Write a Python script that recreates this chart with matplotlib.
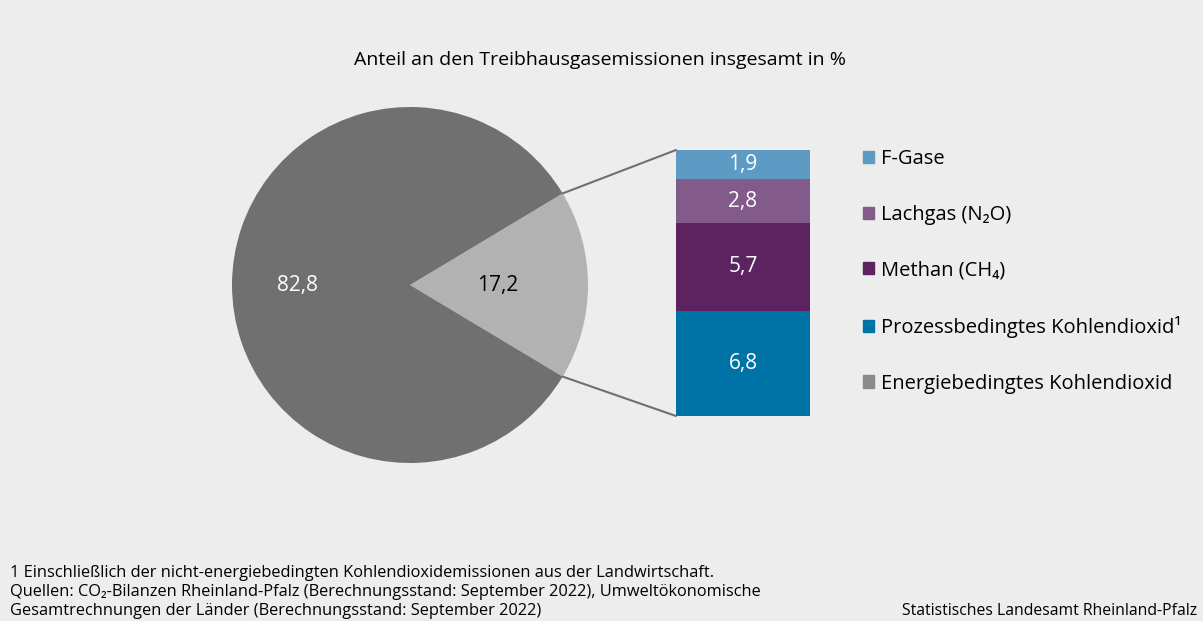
import numpy as np
import matplotlib.pyplot as plt
from matplotlib.patches import Patch, ConnectionPatch

plt.rcParams['font.family'] = ['Open Sans', 'DejaVu Sans']

pie_labels = ["Energiebedingtes Kohlendioxid", "Übrige"]
pie_values = [82.8, 17.2]
pie_colors = ["#707070", "#b2b2b2"]

bar_labels = ["Prozessbedingtes Kohlendioxid¹", "Methan (CH₄)", "Lachgas (N₂O)", "F-Gase"]
bar_values = [6.8, 5.7, 2.8, 1.9]
bar_colors = ["#0073a6", "#5c2360", "#825b8a", "#5d9ac4"]

bg = "#ededed"
W, H = 1203, 621
fig = plt.figure(figsize=(W / 100, H / 100), dpi=100, facecolor=bg)

# pie
cx, cy, r = 410, 285, 178
ax_pie = fig.add_axes([(cx - r) / W, (H - cy - r) / H, 2 * r / W, 2 * r / H])
ax_pie.set_facecolor(bg)
angle = pie_values[1] / sum(pie_values) * 360 / 2
ax_pie.pie(pie_values[::-1], colors=pie_colors[::-1], startangle=-angle,
           counterclock=True, radius=1)
ax_pie.set_xlim(-1, 1)
ax_pie.set_ylim(-1, 1)
ax_pie.text(-0.63, 0, "82,8", color="white", ha="center", va="center", fontsize=15)
ax_pie.text(0.49, 0, "17,2", color="black", ha="center", va="center", fontsize=15)

# stacked bar
bx0, bx1, by0, by1 = 676, 810, 150, 416
ax_bar = fig.add_axes([bx0 / W, (H - by1) / H, (bx1 - bx0) / W, (by1 - by0) / H])
ax_bar.set_facecolor(bg)
bottom = 0
for val, col in zip(bar_values, bar_colors):
    ax_bar.bar(0, val, bottom=bottom, width=1, color=col)
    ax_bar.text(0, bottom + val / 2, f"{val:.1f}".replace(".", ","), color="white",
                ha="center", va="center", fontsize=15)
    bottom += val
ax_bar.set_xlim(-0.5, 0.5)
ax_bar.set_ylim(0, bottom)
ax_bar.axis("off")

# connecting lines
th = np.deg2rad(angle)
for sgn, yb in [(1, bottom), (-1, 0)]:
    con = ConnectionPatch(xyA=(np.cos(th), sgn * np.sin(th)), coordsA=ax_pie.transData,
                          xyB=(-0.5, yb), coordsB=ax_bar.transData,
                          color="#707070", lw=1.5)
    fig.add_artist(con)

# legend
handles = [Patch(color=c) for c in bar_colors[::-1]] + [Patch(color="#8a8a8a")]
labels = bar_labels[::-1] + [pie_labels[0]]
fig.legend(handles, labels, loc="upper left", bbox_to_anchor=(845 / W, 1 - 131 / H),
           frameon=False, fontsize=14.5, handlelength=0.56, handleheight=0.56,
           handletextpad=0.34, labelspacing=1.77)

fig.text(600 / W, 1 - 60 / H, "Anteil an den Treibhausgasemissionen insgesamt in %",
         ha="center", va="center", fontsize=14)

foot = ("1 Einschließlich der nicht-energiebedingten Kohlendioxidemissionen aus der Landwirtschaft.\n"
        "Quellen: CO₂-Bilanzen Rheinland-Pfalz (Berechnungsstand: September 2022), Umweltökonomische\n"
        "Gesamtrechnungen der Länder (Berechnungsstand: September 2022)")
fig.text(10 / W, 1 - 619 / H, foot, ha="left", va="bottom", fontsize=11.8, linespacing=1.25)
fig.text(1197 / W, 1 - 619 / H, "Statistisches Landesamt Rheinland-Pfalz",
         ha="right", va="bottom", fontsize=11.3)

fig.savefig("out.png", dpi=100, facecolor=bg)
